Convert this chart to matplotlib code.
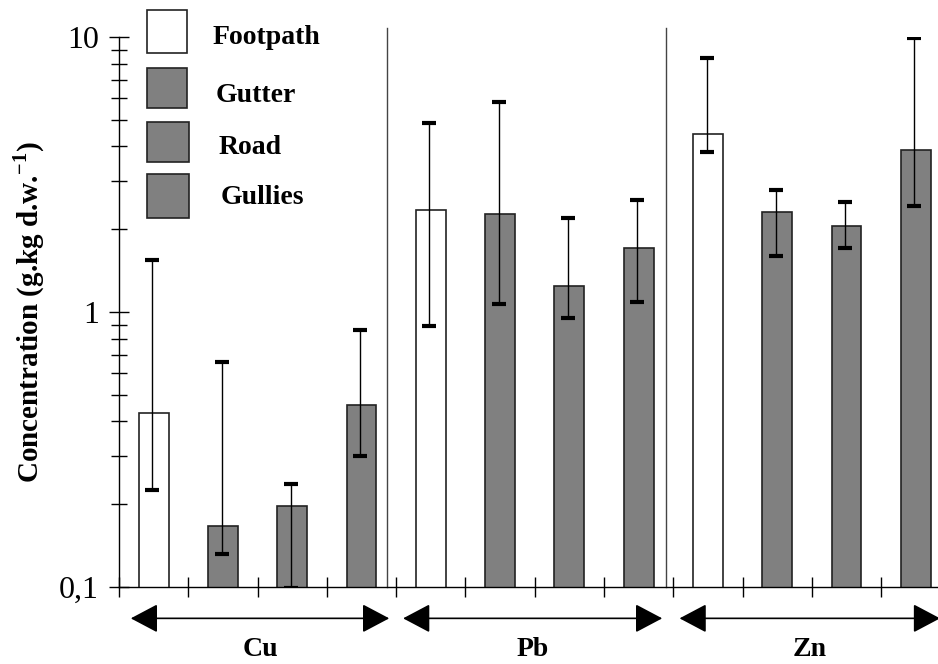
import matplotlib.pyplot as plt
from matplotlib.patches import Rectangle
from matplotlib.ticker import FixedLocator, LogLocator, NullFormatter
import numpy as np

plt.rcParams['font.family'] = 'Liberation Serif'
plt.rcParams['mathtext.fontset'] = 'custom'
plt.rcParams['mathtext.rm'] = 'Liberation Serif'
plt.rcParams['mathtext.bf'] = 'Liberation Serif:bold'

metals = ['Cu', 'Pb', 'Zn']
sites = ['Footpath', 'Gutter', 'Road', 'Gullies']

# mean concentration, g/kg d.w., order: site within metal
cu_mean = [0.43, 0.167, 0.197, 0.46]
pb_mean = [2.35, 2.27, 1.24, 1.71]
zn_mean = [4.44, 2.31, 2.06, 3.88]

# error bar ends (upper / lower)
cu_upper = [1.55, 0.66, 0.237, 0.86]
cu_lower = [0.225, 0.132, 0.099, 0.30]
pb_upper = [4.85, 5.8, 2.2, 2.55]
pb_lower = [0.89, 1.07, 0.95, 1.09]
zn_upper = [8.4, 2.78, 2.51, 9.9]
zn_lower = [3.82, 1.6, 1.71, 2.43]

site_colors = ['white', '#808080', '#808080', '#808080']

means = np.array([cu_mean, pb_mean, zn_mean]).ravel()
upper = np.array([cu_upper, pb_upper, zn_upper]).ravel()
lower = np.array([cu_lower, pb_lower, zn_lower]).ravel()
colors = site_colors * len(metals)

fig = plt.figure(figsize=(9.38, 6.64), dpi=100)
W, H = 938., 664.
ax = fig.add_axes([119 / W, 1 - 587 / H, (938 - 119) / W, (587 - 37) / H])

x = np.arange(len(means)) + 0.5
ax.bar(x, means, width=0.43, color=colors, edgecolor='#222222', linewidth=1.2, zorder=2)
yerr = [means - lower, upper - means]
ax.errorbar(x - 0.02, means, yerr=yerr, fmt='none', ecolor='black', elinewidth=1,
            capsize=4.7, capthick=3, zorder=3)

ax.set_yscale('log')
ax.set_ylim(0.1, 10)
ax.set_xlim(0, 11.82)

ax.yaxis.set_major_locator(FixedLocator([0.1, 1, 10]))
ax.set_yticklabels(['0,1', '1', '10'])
ax.yaxis.set_minor_locator(LogLocator(base=10, subs=np.arange(2, 10)))
ax.yaxis.set_minor_formatter(NullFormatter())
ax.tick_params(axis='y', which='major', direction='inout', length=15, width=1,
               labelsize=23, pad=7)
ax.tick_params(axis='y', which='minor', direction='inout', length=12, width=1)

ax.set_xticks(np.arange(0, 12))
ax.set_xticklabels([])
ax.tick_params(axis='x', which='major', direction='inout', length=14.5, width=1)

for s in ['top', 'right']:
    ax.spines[s].set_visible(False)
for s in ['left', 'bottom']:
    ax.spines[s].set_linewidth(1)

ax.set_ylabel(r'Concentration (g.kg d.w.$^{\mathbf{-1}}$)', fontsize=21,
              fontweight='bold')
ax.yaxis.set_label_coords(-0.088, 0.5)

# separators between metal groups
for xs in [3.87, 7.9]:
    ax.plot([xs, xs], [0.1, 10.8], color='#444444', lw=1, clip_on=False, zorder=1)

# double arrows with metal names below the axis
arrow_spans = [(0.17, 3.9), (4.1, 7.84), (8.09, 11.85)]
trans = ax.get_xaxis_transform()
for name, (x0, x1) in zip(metals, arrow_spans):
    ax.annotate('', xy=(x1, -0.057), xytext=(x0, -0.057), xycoords=trans,
                textcoords=trans, annotation_clip=False,
                arrowprops=dict(arrowstyle='<|-|>,head_length=1.7,head_width=0.9',
                                mutation_scale=10, color='black', lw=1.2,
                                shrinkA=0, shrinkB=0))
    ax.text((x0 + x1) / 2, -0.113, name, transform=trans, ha='center', va='center',
            fontsize=20, fontweight='bold')

# legend drawn by hand
leg_boxes = [(147, 10, 40, 43), (147, 68, 40, 40), (147, 122, 42, 40), (147, 174, 42, 44)]
leg_text = [(213, 38), (216, 95), (219, 147), (221, 198)]
for name, col, (bx, by, bw, bh), (tx, ty) in zip(sites, site_colors, leg_boxes, leg_text):
    fig.patches.append(Rectangle((bx / W, 1 - (by + bh) / H), bw / W, bh / H,
                                 transform=fig.transFigure, facecolor=col,
                                 edgecolor='#222222', linewidth=1.2))
    fig.text(tx / W, 1 - ty / H, name, ha='left', va='center', fontsize=20,
             fontweight='bold')

fig.savefig('out.png', dpi=100)
